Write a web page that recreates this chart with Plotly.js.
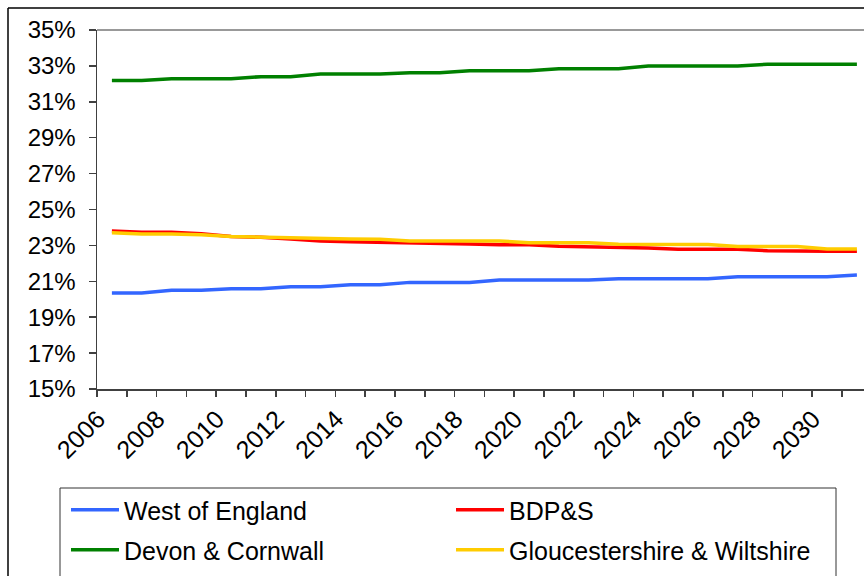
<!DOCTYPE html>
<html>
<head>
<meta charset="utf-8">
<script src="https://cdn.plot.ly/plotly-3.0.1.min.js"></script>
<style>
html,body{margin:0;padding:0;background:#fff;}
#chart{width:864px;height:576px;}
</style>
</head>
<body>
<div id="chart"></div>
<script>
// Data (shares, as fractions)
const years = [2006,2007,2008,2009,2010,2011,2012,2013,2014,2015,2016,2017,2018,2019,2020,2021,2022,2023,2024,2025,2026,2027,2028,2029,2030,2031];
const westOfEngland = [0.2035,0.2035,0.2050,0.2050,0.2059,0.2059,0.2070,0.2070,0.2081,0.2081,0.2094,0.2094,0.2094,0.2107,0.2107,0.2107,0.2107,0.2114,0.2114,0.2114,0.2114,0.2126,0.2126,0.2126,0.2126,0.2135];
const bdps = [0.2380,0.2373,0.2373,0.2365,0.2350,0.2345,0.2335,0.2325,0.2320,0.2318,0.2315,0.2312,0.2308,0.2303,0.2303,0.2295,0.2292,0.2290,0.2285,0.2278,0.2278,0.2278,0.2270,0.2267,0.2267,0.2267];
const devonCornwall = [0.3218,0.3218,0.3229,0.3229,0.3229,0.3240,0.3240,0.3255,0.3255,0.3255,0.3262,0.3262,0.3273,0.3273,0.3273,0.3284,0.3284,0.3284,0.3299,0.3299,0.3299,0.3299,0.3309,0.3309,0.3309,0.3309];
const gloucWilts = [0.2371,0.2364,0.2364,0.2360,0.2349,0.2345,0.2342,0.2336,0.2336,0.2334,0.2325,0.2325,0.2325,0.2325,0.2315,0.2315,0.2315,0.2306,0.2305,0.2305,0.2305,0.2294,0.2294,0.2294,0.2280,0.2280];
const seriesNames = ["West of England","BDP&S","Devon & Cornwall","Gloucestershire & Wiltshire"];
const seriesColors = ["#3366FF","#FF0000","#008000","#FFCC00"];
const xTickVals = [2006,2008,2010,2012,2014,2016,2018,2020,2022,2024,2026,2028,2030];
const yTickVals = [0.15,0.17,0.19,0.21,0.23,0.25,0.27,0.29,0.31,0.33,0.35];

const seriesData = [westOfEngland, bdps, devonCornwall, gloucWilts];
const legendOf = ["legend","legend","legend2","legend2"];

const traces = seriesData.map((vals, i) => ({
  type: "scatter",
  mode: "lines",
  x: years,
  y: vals,
  name: seriesNames[i],
  line: {color: seriesColors[i], width: 3.5},
  legend: legendOf[i],
  hoverinfo: "skip"
}));

// pixel -> paper helpers (plot area: x 97..864, y 30..389)
const L = 97, W = 767, T = 30, H = 359;
const px = v => (v - L) / W;
const py = v => (T + H - v) / H;

const font = {family: "Arial, 'Liberation Sans', sans-serif", color: "#000"};

const legendCommon = {
  orientation: "h",
  x: px(66), xanchor: "left",
  yanchor: "middle",
  entrywidth: 322,
  entrywidthmode: "pixels",
  bgcolor: "rgba(0,0,0,0)",
  borderwidth: 0,
  font: Object.assign({size: 25}, font),
  itemwidth: 48
};

const layout = {
  width: 864, height: 576,
  margin: {l: L, r: 0, t: T, b: 576 - T - H, pad: 0},
  paper_bgcolor: "#fff",
  plot_bgcolor: "#fff",
  showlegend: true,
  font: Object.assign({size: 22}, font),
  xaxis: {
    type: "linear",
    range: [2005.5, 2005.5 + W / 29.8],
    tickmode: "array",
    tickvals: xTickVals,
    ticktext: xTickVals.map(String),
    ticks: "",
    tickangle: -45,
    tickfont: Object.assign({size: 25}, font),
    ticklabelshift: -14,
    ticklabelstandoff: 4,
    showgrid: false,
    zeroline: false,
    showline: true,
    linecolor: "#404040",
    linewidth: 1.5,
    minor: {tickmode: "linear", tick0: 2005.5, dtick: 1, ticks: "outside", ticklen: 6, tickcolor: "#404040", tickwidth: 1.5, showgrid: false}
  },
  yaxis: {
    range: [0.15, 0.35],
    tickmode: "array",
    tickvals: yTickVals,
    tickformat: ".0%",
    ticks: "outside",
    ticklen: 7,
    tickwidth: 1.5,
    tickcolor: "#404040",
    tickfont: Object.assign({size: 24}, font),
    ticklabelstandoff: 8,
    showgrid: false,
    zeroline: false,
    showline: true,
    linecolor: "#404040",
    linewidth: 1.5
  },
  legend: Object.assign({y: py(510)}, legendCommon),
  legend2: Object.assign({y: py(550)}, legendCommon),
  shapes: [
    // plot area top border (gray)
    {type: "line", xref: "paper", yref: "paper", x0: 0, x1: 1.01, y0: 1, y1: 1, line: {color: "#999999", width: 2}},
    // outer chart border (left + top)
    {type: "line", xref: "paper", yref: "paper", x0: px(8), x1: px(8), y0: py(8), y1: py(600), line: {color: "#000", width: 1.5}},
    {type: "line", xref: "paper", yref: "paper", x0: px(8), x1: px(880), y0: py(8), y1: py(8), line: {color: "#000", width: 1.5}},
    // legend box (left, top, right)
    {type: "line", xref: "paper", yref: "paper", x0: px(60), x1: px(60), y0: py(488), y1: py(600), line: {color: "#333", width: 1}},
    {type: "line", xref: "paper", yref: "paper", x0: px(60), x1: px(836), y0: py(488), y1: py(488), line: {color: "#333", width: 1}},
    {type: "line", xref: "paper", yref: "paper", x0: px(836), x1: px(836), y0: py(488), y1: py(600), line: {color: "#333", width: 1}}
  ]
};

Plotly.newPlot("chart", traces, layout, {displayModeBar: false, staticPlot: true});
</script>
</body>
</html>
